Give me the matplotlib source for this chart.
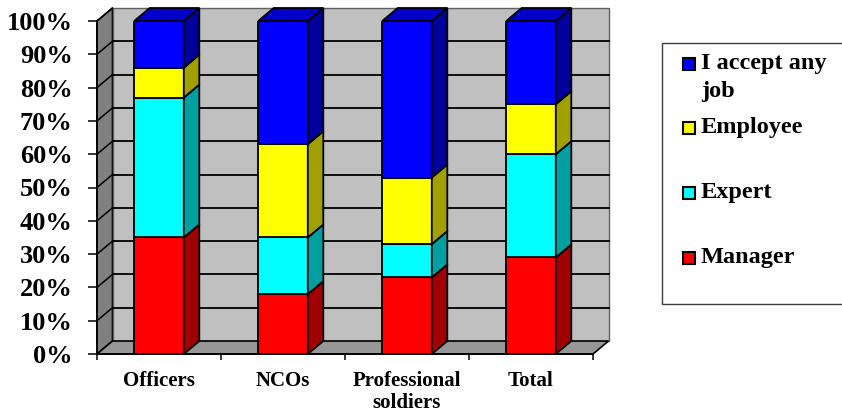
import matplotlib
matplotlib.use("Agg")
import matplotlib.pyplot as plt
from matplotlib.patches import Polygon, Rectangle

# Survey shares (%) of preferred job type per group
categories = ["Officers", "NCOs", "Professional\nsoldiers", "Total"]
series_names = ["Manager", "Expert", "Employee", "I accept any job"]
manager = [35, 18, 23, 29]
expert = [42, 17, 10, 31]
employee = [9, 28, 20, 15]
any_job = [14, 37, 47, 25]
y_ticks = [0, 10, 20, 30, 40, 50, 60, 70, 80, 90, 100]

series_values = [manager, expert, employee, any_job]
face_colors = ["#ff0000", "#00ffff", "#ffff00", "#0000ff"]
side_colors = ["#a00000", "#00a0a0", "#a0a000", "#00009c"]
top_color = "#0000c8"

FONT = "Liberation Serif"
W, H = 842, 413
fig = plt.figure(figsize=(W / 100, H / 100), dpi=100)
ax = fig.add_axes([97 / W, 1 - 354 / H, 496 / W, 333 / H])
for s in ax.spines.values():
    s.set_visible(False)
ax.patch.set_visible(False)

dx, dy = 0.125, 3.9  # depth offset of the 3-D box
x0, x1 = -0.5, len(categories) - 0.5

# left wall
ax.add_patch(Polygon([(x0, 0), (x0, 100), (x0 + dx, 100 + dy), (x0 + dx, dy)],
                     closed=True, facecolor="#808080", edgecolor="black",
                     lw=1.2, clip_on=False, zorder=1))
# back wall
ax.add_patch(Rectangle((x0 + dx, dy), x1 - x0, 100, facecolor="#c0c0c0",
                       edgecolor="#606060", lw=1.0, clip_on=False, zorder=1))
# floor
ax.add_patch(Polygon([(x0, 0), (x1, 0), (x1 + dx, dy), (x0 + dx, dy)],
                     closed=True, facecolor="#969696", edgecolor="black",
                     lw=1.2, clip_on=False, zorder=1))
# gridlines on back and left walls
for k in y_ticks[1:-1]:
    ax.plot([x0 + dx, x1 + dx], [k + dy, k + dy], color="black", lw=1.3,
            clip_on=False, zorder=2)
for k in y_ticks[1:]:
    ax.plot([x0, x0 + dx], [k, k + dy], color="black", lw=1.1,
            clip_on=False, zorder=2)

# stacked 3-D columns
xs = list(range(len(categories)))
bw = 0.4
bottoms = [0.0] * len(categories)
for si, vals in enumerate(series_values):
    ax.bar(xs, vals, width=bw, bottom=bottoms, color=face_colors[si],
           edgecolor="black", linewidth=1.3, zorder=3)
    for i, x in enumerate(xs):
        b, t = bottoms[i], bottoms[i] + vals[i]
        xr = x + bw / 2
        ax.add_patch(Polygon([(xr, b), (xr + dx, b + dy), (xr + dx, t + dy), (xr, t)],
                             closed=True, facecolor=side_colors[si],
                             edgecolor="black", lw=1.3, clip_on=False, zorder=3))
        if si == len(series_values) - 1:
            xl = x - bw / 2
            ax.add_patch(Polygon([(xl, t), (xr, t), (xr + dx, t + dy), (xl + dx, t + dy)],
                                 closed=True, facecolor=top_color,
                                 edgecolor="black", lw=1.3, clip_on=False, zorder=3))
    bottoms = [bottoms[i] + vals[i] for i in range(len(categories))]

# axes lines
ax.plot([x0, x1], [0, 0], color="black", lw=1.3, clip_on=False, zorder=4)
ax.plot([x0, x0], [0, 100], color="black", lw=1.3, clip_on=False, zorder=4)

ax.set_yticks(y_ticks)
ax.set_yticklabels([f"{v}%" for v in y_ticks], fontfamily=FONT,
                   fontweight="bold", fontsize=19)
ax.tick_params(axis="y", length=6.5, width=1.1, pad=11, color="black")

ax.set_xticks(xs)
ax.set_xticklabels(categories, fontfamily=FONT, fontweight="bold",
                   fontsize=15, linespacing=1.15)
ax.set_xticks([x0 + i for i in range(len(categories) + 1)], minor=True)
ax.tick_params(axis="x", which="major", length=0, pad=12)
ax.tick_params(axis="x", which="minor", length=4.5, width=1.1, color="black")

ax.set_xlim(x0, x1)
ax.set_ylim(0, 100)

# legend box (runs off the right edge of the canvas)
fig.add_artist(Rectangle((662 / W, 1 - 304 / H), 200 / W, 261 / H,
                         transform=fig.transFigure, facecolor="white",
                         edgecolor="#404040", lw=1.0))
legend_rows = [(3, 64), (2, 128), (1, 193), (0, 258)]
legend_labels = {3: "I accept any\njob"}
for si, ypx in legend_rows:
    fig.add_artist(Rectangle((683 / W, 1 - (ypx + 6) / H), 12 / W, 12 / H,
                             transform=fig.transFigure,
                             facecolor=face_colors[si], edgecolor="black",
                             lw=1.5))
    fig.text(701 / W, 1 - (ypx - 11) / H, legend_labels.get(si, series_names[si]),
             fontfamily=FONT, fontweight="bold", fontsize=17.5, va="top",
             ha="left", linespacing=1.45)

fig.savefig("out.png", dpi=100)
